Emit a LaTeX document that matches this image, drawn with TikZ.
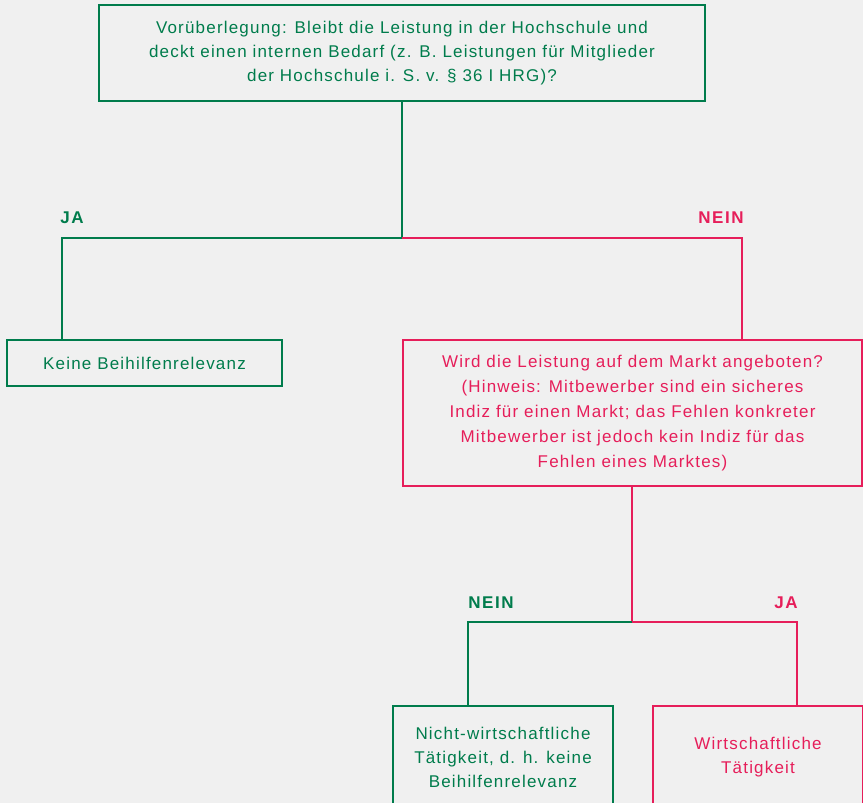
\documentclass[tikz,border=0pt]{standalone}
\usepackage{fontspec}
\setmainfont[LetterSpace=7]{Liberation Sans}
\newfontfamily\labfont[LetterSpace=9]{Liberation Sans}
\definecolor{hgreen}{RGB}{0,124,76}
\definecolor{hred}{RGB}{230,30,90}
\definecolor{bgc}{RGB}{240,240,240}
\tikzset{
  box/.style={draw, line width=2bp, inner sep=0pt, align=center, font=\fontsize{17bp}{24bp}\selectfont},
  gbox/.style={box, draw=hgreen, text=hgreen},
  rbox/.style={box, draw=hred, text=hred},
  lab/.style={font=\labfont\bfseries\fontsize{17bp}{18bp}\selectfont, inner sep=0pt},
  gline/.style={draw=hgreen, line width=2bp},
  rline/.style={draw=hred, line width=2bp},
}
\begin{document}
\begin{tikzpicture}[x=1bp,y=-1bp]
\fill[bgc] (0,0) rectangle (863,803);
\useasboundingbox (0,0) rectangle (863,803);
\clip (0,0) rectangle (863,803);

\node[gbox, minimum width=606bp, minimum height=96bp] (top) at (402,53)
  {Vorüberlegung: Bleibt die Leistung in der Hochschule und\\
   deckt einen internen Bedarf (z. B. Leistungen für Mitglieder\\
   der Hochschule i. S. v. § 36 I HRG)?};

\node[gbox, minimum width=275bp, minimum height=46bp] (keine) at (144.5,363)
  {Keine Beihilfenrelevanz};

\node[rbox, minimum width=459bp, minimum height=146bp, font=\fontsize{17bp}{25bp}\selectfont] (wird) at (632.5,413)
  {Wird die Leistung auf dem Markt angeboten?\\
   (Hinweis: Mitbewerber sind ein sicheres\\
   Indiz für einen Markt; das Fehlen konkreter\\
   Mitbewerber ist jedoch kein Indiz für das\\
   Fehlen eines Marktes)};

\node[gbox, minimum width=220bp, minimum height=102bp] (nicht) at (503,757)
  {Nicht-wirtschaftliche\\
   Tätigkeit, d. h. keine\\
   Beihilfenrelevanz};

\node[rbox, minimum width=210bp, minimum height=102bp] (wirt) at (758,757)
  {Wirtschaftliche\\
   Tätigkeit};

% first branch
\coordinate (j1) at (402,238);
\coordinate (jaL) at (62,238);
\coordinate (neinR) at (742,238);
\draw[gline] (top.south) -- (j1) -- (jaL) -- (jaL |- keine.north);
\draw[rline] (j1) -- (neinR) -- (neinR |- wird.north);
\node[lab, text=hgreen] (ja1) at (72,218) {JA};
\node[lab, text=hred] (nein1) at (721,218) {NEIN};

% second branch
\coordinate (j2) at (632,622);
\coordinate (neinL) at (468,622);
\coordinate (jaR) at (797,622);
\draw[rline] (wird.south -| j2) -- (j2) -- (jaR) -- (jaR |- wirt.north);
\draw[gline] (j2) -- (neinL) -- (neinL |- nicht.north);
\node[lab, text=hgreen] (nein2) at (491,603) {NEIN};
\node[lab, text=hred] (ja2) at (786,603) {JA};
\end{tikzpicture}
\end{document}
